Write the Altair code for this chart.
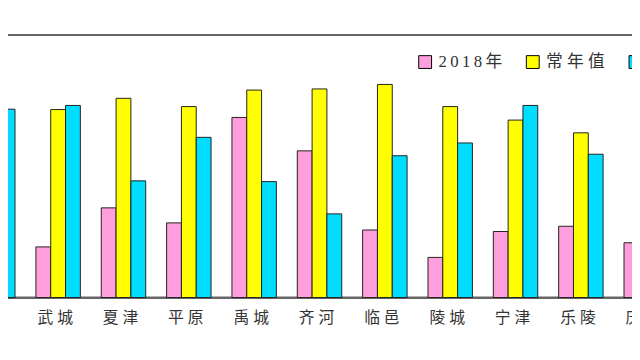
import altair as alt
import pandas as pd

cats = ["德城", "武城", "夏津", "平原", "禹城", "齐河", "临邑", "陵城", "宁津", "乐陵", "庆云"]
series = ["2018年", "常年值", "2017年"]
v2018 = [158, 135, 239, 199, 480, 391, 180, 107, 176, 190, 146]
vnormal = [526, 501, 531, 509, 553, 556, 568, 509, 473, 439, 474]
v2017 = [502, 512, 311, 427, 309, 223, 378, 412, 512, 382, 395]
colors = ["#FF9EDC", "#FFFF00", "#00DDFF"]

rows = []
for i, c in enumerate(cats):
    for s, vals in zip(series, [v2018, vnormal, v2017]):
        rows.append({"county": c, "series": s, "value": vals[i]})
df = pd.DataFrame(rows)

font = "Liberation Serif, Noto Sans CJK SC"

legend_expr = (
    "datum.label == '常年值' ? '常 年 值' : "
    "join(split(substring(datum.label, 0, 4), ''), '\u2009') + '\u2009' + substring(datum.label, 4)"
)

chart = alt.Chart(df).mark_bar(stroke="#222", strokeWidth=1).encode(
    x=alt.X("county:N", sort=cats,
            scale=alt.Scale(paddingInner=0.32, paddingOuter=0.5),
            axis=alt.Axis(title=None, labelAngle=0, ticks=False, domainColor="#666",
                          domainWidth=2, labelFont=font, labelFontSize=16,
                          labelColor="#333", labelPadding=12, labelOffset=-3,
                          labelExpr="substring(datum.label,0,1) + ' ' + substring(datum.label,1)")),
    xOffset=alt.XOffset("series:N", sort=series),
    y=alt.Y("value:Q", scale=alt.Scale(domain=[0, 700]), axis=None),
    color=alt.Color("series:N", sort=series,
                    scale=alt.Scale(domain=series, range=colors),
                    legend=alt.Legend(title=None, orient="none", direction="horizontal",
                                      legendX=485, legendY=19, symbolType="square",
                                      symbolSize=169, symbolStrokeColor="#000",
                                      symbolStrokeWidth=1, symbolOpacity=1,
                                      labelFont=font, labelFontSize=17, labelColor="#333",
                                      labelOffset=5, columnPadding=22,
                                      labelExpr=legend_expr)),
).properties(
    width=773, height=266,
    padding={"left": -71, "top": 25, "right": -70, "bottom": 61},
    autosize=alt.AutoSizeParams(type="none"),
).configure_view(stroke="#666", strokeWidth=2)

chart.save("out.html", embed_options={"renderer": "svg", "actions": False})
